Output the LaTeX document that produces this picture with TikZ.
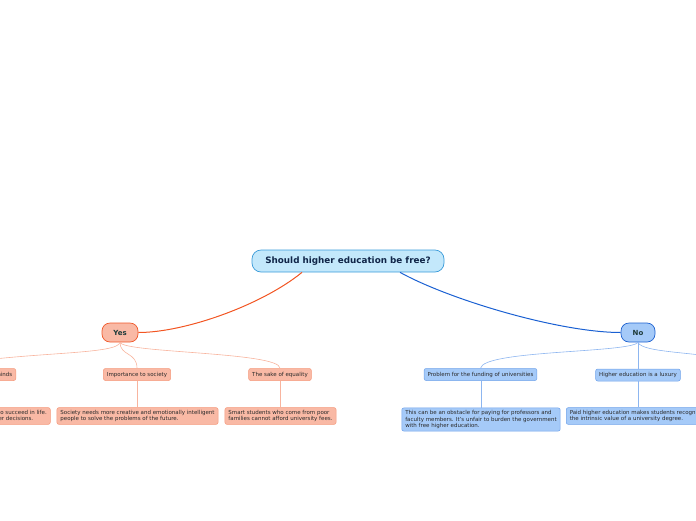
\documentclass[tikz,border=0pt]{standalone}
\usepackage{fontspec}
\setmainfont{DejaVu Sans}
\begin{document}
\begin{tikzpicture}[x=1pt,y=-1pt,
  rootbox/.style={draw=rootline,fill=rootfill,line width=0.7pt,rounded corners=9pt,minimum width=192pt,minimum height=22pt,inner sep=0pt,font=\fontsize{8.8}{10}\selectfont\bfseries,text=roottext},
  yesbox/.style={draw=yesline,fill=yesfill,line width=0.7pt,rounded corners=8pt,minimum width=36pt,minimum height=19pt,inner sep=0pt,font=\fontsize{7}{8}\selectfont\bfseries,text=maintext},
  nobox/.style={draw=noline,fill=nofill,line width=0.7pt,rounded corners=8pt,minimum width=34pt,minimum height=19pt,inner sep=0pt,font=\fontsize{7}{8}\selectfont\bfseries,text=maintext},
  ychild/.style={draw=ychildline,fill=yesfill,line width=0.5pt,rounded corners=2pt,minimum height=12pt,inner xsep=3.5pt,inner ysep=1pt,font=\fontsize{5.5}{6.5}\selectfont,text=childtext},
  nchild/.style={draw=nchildline,fill=nofill,line width=0.5pt,rounded corners=2pt,minimum height=12pt,inner xsep=3.5pt,inner ysep=1pt,font=\fontsize{5.5}{6.5}\selectfont,text=childtext},
  ydetail/.style={ychild,align=left,inner ysep=2.5pt,font=\fontsize{5.5}{6.4}\selectfont},
  ndetail/.style={nchild,align=left,inner ysep=2.5pt,font=\fontsize{5.5}{6.4}\selectfont},
  yedge/.style={draw=yedgecol,line width=0.6pt},
  nedge/.style={draw=nedgecol,line width=0.6pt}
]
\definecolor{rootfill}{HTML}{C3E8FB}
\definecolor{rootline}{HTML}{3A9BD9}
\definecolor{roottext}{HTML}{102548}
\definecolor{maintext}{HTML}{1E3B3A}
\definecolor{childtext}{HTML}{2A2A2A}
\definecolor{yesfill}{HTML}{F9B9A5}
\definecolor{yesline}{HTML}{F0582A}
\definecolor{ychildline}{HTML}{F5987A}
\definecolor{yedgecol}{HTML}{F8B49E}
\definecolor{nofill}{HTML}{A5CAF8}
\definecolor{noline}{HTML}{1F62D0}
\definecolor{nchildline}{HTML}{6FA2EA}
\definecolor{nedgecol}{HTML}{8DB6F0}
\definecolor{orangeedge}{HTML}{F25522}
\definecolor{blueedge}{HTML}{1A60D2}
\useasboundingbox (0,0) rectangle (696,520);
\clip (0,0) rectangle (696,520);

\node[rootbox] (root) at (348,261) {Should higher education be free?};
\node[yesbox] (yes) at (120,332.5) {Yes};
\node[nobox] (no) at (638,332.5) {No};

\draw[orangeedge,line width=1pt] ([xshift=-46pt]root.south) .. controls (262,305) and (185,332.5) .. (yes.east);
\draw[blueedge,line width=1pt] ([xshift=52pt]root.south) .. controls (450,300) and (560,332.5) .. (no.west);

% Yes children
\node[ychild,anchor=east] (minds) at (16,374.5) {Opening minds};
\node[ychild] (imp) at (137,374.5) {Importance to society};
\node[ychild] (eq) at (280,374.5) {The sake of equality};
\node[ydetail,anchor=east] (succ) at (50.5,416) {Higher education helps people to succeed in life.\\It also helps them to make better decisions.};
\node[ydetail] (soc) at (137.5,416) {Society needs more creative and emotionally intelligent\\people to solve the problems of the future.};
\node[ydetail] (smart) at (280.5,416) {Smart students who come from poor\\families cannot afford university fees.};

\coordinate (yleft) at (-30,362);
\draw[yedge] (yes.south) .. controls (118,354) and (40,352) .. (yleft);
\draw[yedge] (yes.south) .. controls (120,356) and (137,352) .. (imp.north);
\draw[yedge] (yes.south) .. controls (124,353) and (280,352) .. (eq.north);
\draw[yedge] (imp.south) -- (soc.north -| imp.south);
\draw[yedge] (eq.south) -- (smart.north -| eq.south);

% No children
\node[nchild] (fund) at (480.5,374.5) {Problem for the funding of universities};
\node[nchild] (lux) at (638,375) {Higher education is a luxury};
\node[ndetail] (obst) at (481,419.5) {This can be an obstacle for paying for professors and\\faculty members. It's unfair to burden the government\\with free higher education.};
\node[ndetail,anchor=west] (paid) at (566,416) {Paid higher education makes students recognize\\the intrinsic value of a university degree.};

\coordinate (nright) at (730,360);
\draw[nedge] (no.south) .. controls (630,353) and (483,350) .. (fund.north);
\draw[nedge] (no.south) -- (lux.north);
\draw[nedge] (no.south) .. controls (642,353) and (700,352) .. (nright);
\draw[nedge] (fund.south -| obst.north) -- (obst.north);
\draw[nedge] (lux.south) -- (paid.north -| lux.south);
\end{tikzpicture}
\end{document}
